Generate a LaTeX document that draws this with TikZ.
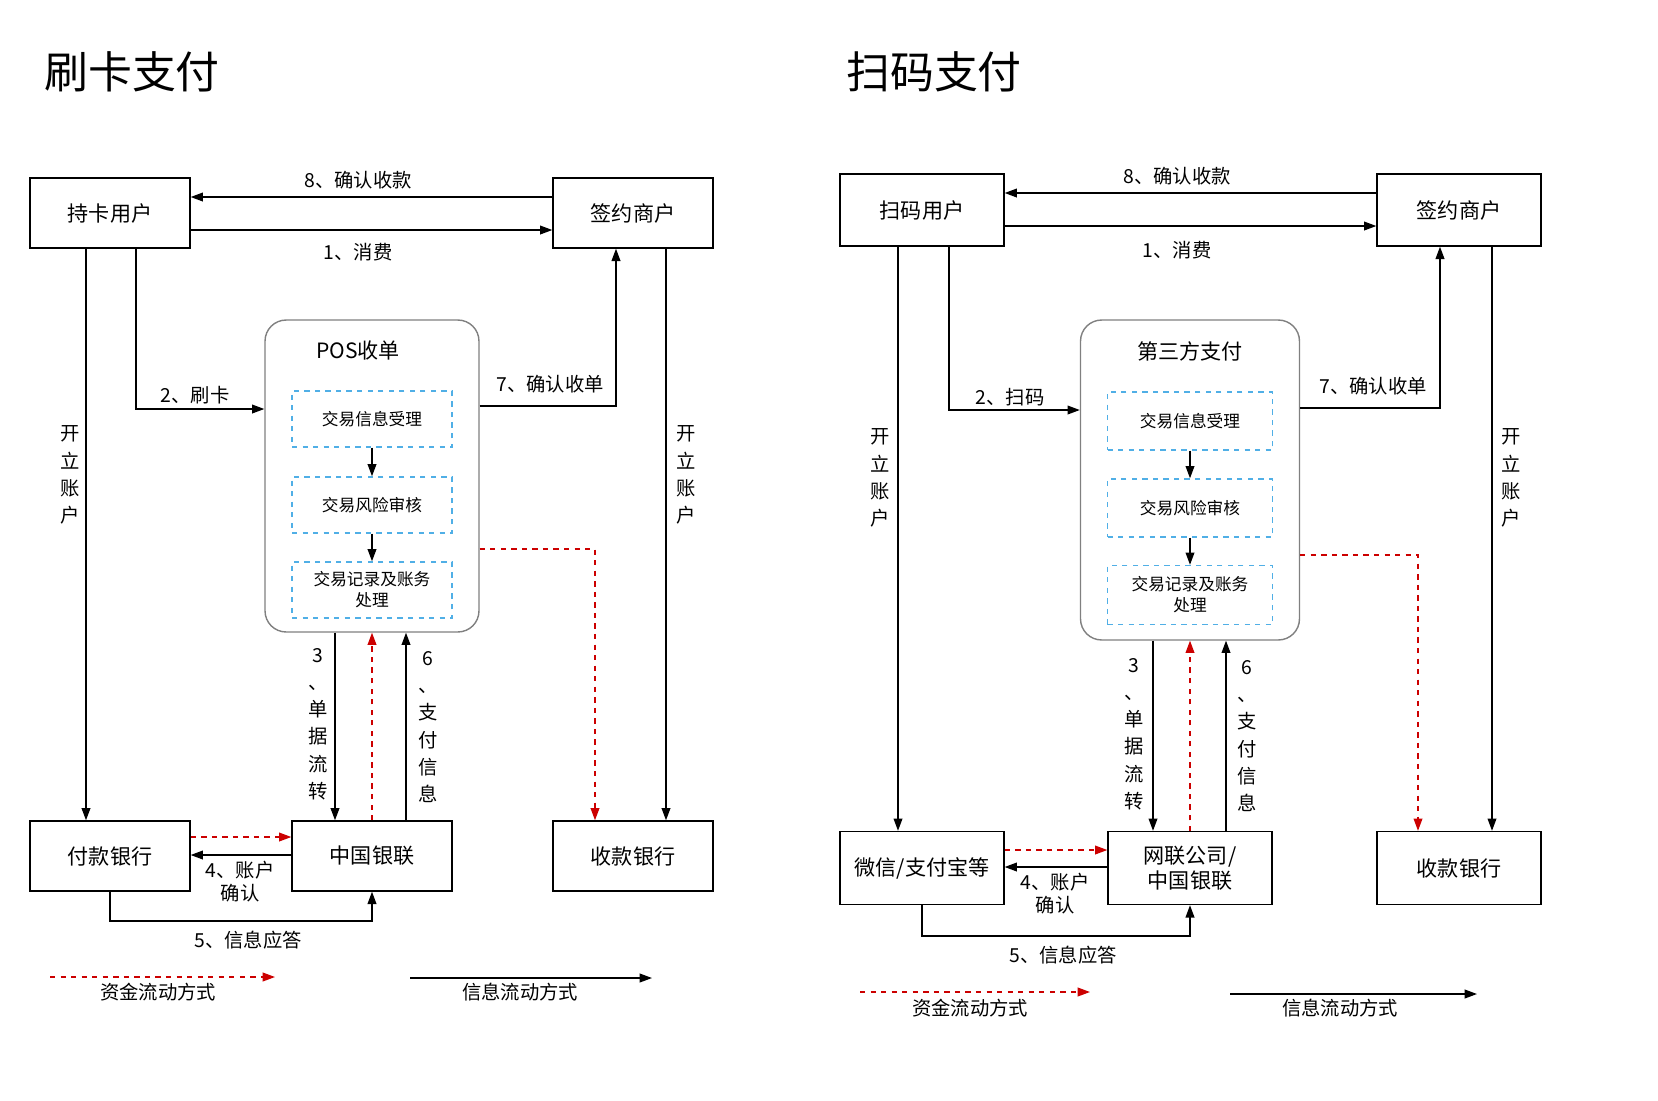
\documentclass[tikz,border=0pt]{standalone}
\usepackage{fontspec}
\setmainfont{Noto Sans CJK SC}
\usetikzlibrary{arrows.meta}
\begin{document}
\begin{tikzpicture}[x=0.02cm,y=-0.02cm,
 box/.style={draw,thick,minimum width=3.2cm,minimum height=1.4cm,font=\fontsize{12}{14}\selectfont,inner sep=1pt},
 dbox/.style={draw=cyan!80!blue!70,dashed,thick,minimum width=3.2cm,minimum height=1.12cm,font=\fontsize{9.5}{12}\selectfont,align=center,inner sep=1pt},
 big/.style={draw=gray,thick,rounded corners=12pt},
 lab/.style={font=\fontsize{11}{13}\selectfont,inner sep=1pt},
 vlab/.style={font=\fontsize{11}{15.5}\selectfont,align=center,inner sep=1pt},
 ar/.style={thick,-{Triangle[length=7pt,width=5pt]}},
 rar/.style={thick,red!80!black,dashed,-{Triangle[length=7pt,width=5pt]}},
 title/.style={font=\fontsize{25}{28}\selectfont,anchor=west}]
\useasboundingbox (0,0) rectangle (1658,1100);
% ---------- left ----------
\node[title] (t1) at (38,72) {刷卡支付};
\node[box] (u1) at (110,213) {持卡用户};
\node[box] (m1) at (633,213) {签约商户};
\node[big,minimum width=4.28cm,minimum height=6.24cm] (p1) at (372,476) {};
\node[font=\fontsize{12}{14}\selectfont] (pt1) at (358,350) {POS收单};
\node[dbox] (d11) at (372,419) {交易信息受理};
\node[dbox] (d12) at (372,505) {交易风险审核};
\node[dbox] (d13) at (372,590) {交易记录及账务\\处理};
\node[box] (b11) at (110,856) {付款银行};
\node[box] (b12) at (372,856) {中国银联};
\node[box] (b13) at (633,856) {收款银行};
\draw[ar] (m1.west |- 0,197) -- (u1.east |- 0,197);
\node[lab] (l18) at (358,180) {8、确认收款};
\draw[ar] (u1.east |- 0,230) -- (m1.west |- 0,230);
\node[lab] (l11) at (358,252) {1、消费};
\draw[ar] (d11) -- (d12);
\draw[ar] (d12) -- (d13);
\draw[ar] (u1.south -| 136,0) |- (p1.west |- 0,409);
\node[lab] (l12) at (195,395) {2、刷卡};
\draw[ar] (p1.east |- 0,406) -| (m1.south -| 616,0);
\node[lab] (l17) at (550,384) {7、确认收单};
\draw[ar] (u1.south -| 86,0) -- (b11.north -| 86,0);
\node[vlab] (v11) at (70,475) {开\\立\\账\\户};
\draw[ar] (m1.south -| 666,0) -- (b13.north -| 666,0);
\node[vlab] (v12) at (686,475) {开\\立\\账\\户};
\draw[ar] (p1.south -| 335,0) -- (b12.north -| 335,0);
\node[vlab] (v13) at (318,724) {3\\、\\单\\据\\流\\转};
\draw[rar] (b12.north -| 372,0) -- (p1.south -| 372,0);
\draw[ar] (b12.north -| 406,0) -- (p1.south -| 406,0);
\node[vlab] (v16) at (428,727) {6\\、\\支\\付\\信\\息};
\draw[rar] (p1.east |- 0,549) -| (b13.north -| 595,0);
\draw[rar] (b11.east |- 0,837) -- (b12.west |- 0,837);
\draw[ar] (b12.west |- 0,855) -- (b11.east |- 0,855);
\node[lab,align=center] (l14) at (240,882) {4、账户\\确认};
\draw[ar] (b11.south) |- (372,921) -- (b12.south);
\node[lab] (l15) at (248,940) {5、信息应答};
\coordinate (r1a) at (50,977); \coordinate (r1b) at (275,977);
\draw[rar] (r1a) -- (r1b);
\node[lab] (g11) at (158,992) {资金流动方式};
\coordinate (k1a) at (410,978); \coordinate (k1b) at (652,978);
\draw[ar] (k1a) -- (k1b);
\node[lab] (g12) at (520,992) {信息流动方式};
% ---------- right ----------
\node[title] (t2) at (840,72) {扫码支付};
\node[box,minimum width=3.28cm,minimum height=1.44cm] (u2) at (922,210) {扫码用户};
\node[box,minimum width=3.28cm,minimum height=1.44cm] (m2) at (1459,210) {签约商户};
\node[big,minimum width=4.38cm,minimum height=6.4cm] (p2) at (1190,480) {};
\node[font=\fontsize{12}{14}\selectfont] (pt2) at (1190,351) {第三方支付};
\node[dbox,minimum width=3.3cm,minimum height=1.16cm] (d21) at (1190,421) {交易信息受理};
\node[dbox,minimum width=3.3cm,minimum height=1.16cm] (d22) at (1190,508) {交易风险审核};
\node[dbox,minimum width=3.3cm,minimum height=1.18cm] (d23) at (1190,595) {交易记录及账务\\处理};
\node[box,minimum width=3.28cm,minimum height=1.46cm] (b21) at (922,868) {微信/支付宝等};
\node[box,minimum width=3.28cm,minimum height=1.46cm,align=center] (b22) at (1190,868) {网联公司/\\中国银联};
\node[box,minimum width=3.28cm,minimum height=1.46cm] (b23) at (1459,868) {收款银行};
\draw[ar] (m2.west |- 0,193) -- (u2.east |- 0,193);
\node[lab] (l28) at (1177,176) {8、确认收款};
\draw[ar] (u2.east |- 0,226) -- (m2.west |- 0,226);
\node[lab] (l21) at (1177,250) {1、消费};
\draw[ar] (d21) -- (d22);
\draw[ar] (d22) -- (d23);
\draw[ar] (u2.south -| 949,0) |- (p2.west |- 0,410);
\node[lab] (l22) at (1010,397) {2、扫码};
\draw[ar] (p2.east |- 0,408) -| (m2.south -| 1440,0);
\node[lab] (l27) at (1373,386) {7、确认收单};
\draw[ar] (u2.south -| 898,0) -- (b21.north -| 898,0);
\node[vlab] (v21) at (880,478) {开\\立\\账\\户};
\draw[ar] (m2.south -| 1492,0) -- (b23.north -| 1492,0);
\node[vlab] (v22) at (1511,478) {开\\立\\账\\户};
\draw[ar] (p2.south -| 1153,0) -- (b22.north -| 1153,0);
\node[vlab] (v23) at (1134,734) {3\\、\\单\\据\\流\\转};
\draw[rar] (b22.north -| 1190,0) -- (p2.south -| 1190,0);
\draw[ar] (b22.north -| 1226,0) -- (p2.south -| 1226,0);
\node[vlab] (v26) at (1247,736) {6\\、\\支\\付\\信\\息};
\draw[rar] (p2.east |- 0,555) -| (b23.north -| 1418,0);
\draw[rar] (b21.east |- 0,850) -- (b22.west |- 0,850);
\draw[ar] (b22.west |- 0,867) -- (b21.east |- 0,867);
\node[lab,align=center] (l24) at (1055,894) {4、账户\\确认};
\draw[ar] (b21.south) |- (1190,936) -- (b22.south);
\node[lab] (l25) at (1063,955) {5、信息应答};
\coordinate (r2a) at (860,992); \coordinate (r2b) at (1090,992);
\draw[rar] (r2a) -- (r2b);
\node[lab] (g21) at (970,1008) {资金流动方式};
\coordinate (k2a) at (1230,994); \coordinate (k2b) at (1477,994);
\draw[ar] (k2a) -- (k2b);
\node[lab] (g22) at (1340,1008) {信息流动方式};
\end{tikzpicture}
\end{document}
